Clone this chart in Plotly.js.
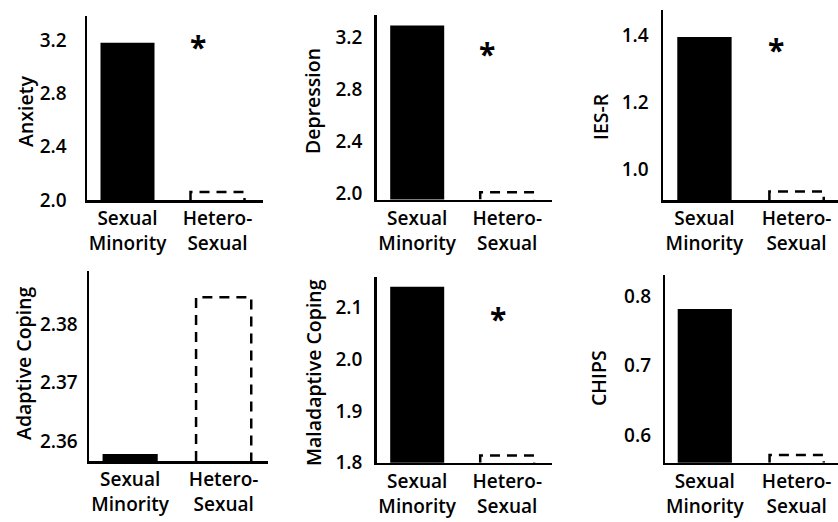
<!DOCTYPE html>
<html>
<head>
<meta charset="utf-8">
<script src="https://cdn.plot.ly/plotly-3.0.1.min.js"></script>
<style>html,body{margin:0;padding:0;background:#fff;}#chart{width:838px;height:522px;}</style>
</head>
<body>
<div id="chart"></div>
<script>
// ---- data ----
const categories = ['Sexual<br>Minority', 'Hetero-<br>Sexual'];
const measures = ['Anxiety', 'Depression', 'IES-R', 'Adaptive Coping', 'Maladaptive Coping', 'CHIPS'];
const sexualMinority = [3.18, 3.29, 1.395, 2.3578, 2.14, 0.781];
const heterosexual = [2.06, 2.005, 0.935, 2.3846, 1.814, 0.571];
const significant = [true, true, true, false, true, false];
const yTickVals = [[2.0, 2.4, 2.8, 3.2], [2.0, 2.4, 2.8, 3.2], [1.0, 1.2, 1.4], [2.36, 2.37, 2.38], [1.8, 1.9, 2.0, 2.1], [0.6, 0.7, 0.8]];
const yTickFormat = ['.1f', '.1f', '.1f', '.2f', '.1f', '.1f'];

// ---- layout geometry (pixels) ----
const W = 838, H = 522;
const panels = [
  {x: [87, 262.5], xr: [-0.45, 1.5], y: [16, 200], yr: [2.0, 3.38], bw: 0.6, so: 14, title: [25, 112], star: [198, 47]},
  {x: [376.7, 552.2], xr: [-0.45, 1.5], y: [15, 199.5], yr: [1.95, 3.37], bw: 0.6, so: 8, title: [313, 101], star: [487, 54]},
  {x: [663, 838], xr: [-0.45, 1.45], y: [10, 200], yr: [0.91, 1.475], bw: 0.59, so: 8, title: [600, 117], star: [776, 49]},
  {x: [89, 267.6], xr: [-0.44, 1.47], y: [271, 461], yr: [2.3566, 2.3891], bw: 0.59, so: 5, title: [23, 363], star: null},
  {x: [376.7, 552.2], xr: [-0.45, 1.5], y: [277, 462.7], yr: [1.8, 2.159], bw: 0.6, so: 8, title: [313, 373], star: [498, 318]},
  {x: [665.3, 838], xr: [-0.43, 1.45], y: [275, 462.7], yr: [0.56, 0.83], bw: 0.59, so: 8, title: [598, 378], star: null}
];

const FONT = '"Open Sans", "Noto Sans", sans-serif';
const WEIGHT = 600;
const data = [];
const layout = {
  width: W, height: H,
  margin: {l: 0, r: 0, t: 0, b: 0},
  paper_bgcolor: '#fff', plot_bgcolor: '#fff',
  showlegend: false,
  font: {family: FONT, size: 18, color: '#000'},
  annotations: []
};

panels.forEach((p, i) => {
  const n = i + 1;
  const xa = 'x' + (n === 1 ? '' : n), ya = 'y' + (n === 1 ? '' : n);
  const base = p.yr[0];
  // filled bar: sexual minority
  data.push({
    type: 'bar', x: [0], y: [sexualMinority[i]], width: p.bw,
    marker: {color: '#000', line: {width: 0}},
    xaxis: xa, yaxis: ya, hoverinfo: 'skip'
  });
  // dashed outline bar: heterosexual
  const v = heterosexual[i], h = p.bw / 2;
  data.push({
    type: 'scatter', mode: 'lines',
    x: [1 - h, 1 - h, 1 + h, 1 + h], y: [base, v, v, base],
    line: {color: '#000', width: 2.5, dash: '10px,7px'},
    xaxis: xa, yaxis: ya, hoverinfo: 'skip'
  });
  const xKey = 'xaxis' + (n === 1 ? '' : n), yKey = 'yaxis' + (n === 1 ? '' : n);
  layout[xKey] = {
    domain: [p.x[0] / W, Math.min(1, p.x[1] / W)],
    range: p.xr, anchor: ya,
    tickmode: 'array', tickvals: [0, 1], ticktext: categories,
    showgrid: false, zeroline: false, showline: true, linecolor: '#000', linewidth: 2.5,
    ticks: '', ticklabelstandoff: 0,
    tickfont: {family: FONT, size: 19, color: '#000', weight: WEIGHT}, fixedrange: true
  };
  layout[yKey] = {
    domain: [1 - p.y[1] / H, 1 - p.y[0] / H],
    range: p.yr, anchor: xa,
    tickmode: 'array', tickvals: yTickVals[i], tickformat: yTickFormat[i],
    showgrid: false, zeroline: false, showline: true, linecolor: '#000', linewidth: 2.5,
    ticks: '', ticklabelstandoff: p.so,
    tickfont: {family: FONT, size: 19, color: '#000', weight: WEIGHT}, fixedrange: true
  };
  layout.annotations.push({
    text: measures[i], xref: 'paper', yref: 'paper',
    x: p.title[0] / W, y: 1 - p.title[1] / H, xanchor: 'center', yanchor: 'middle',
    textangle: -90, showarrow: false, font: {family: FONT, size: 19.5, color: '#000', weight: WEIGHT}
  });
  if (significant[i] && p.star) {
    layout.annotations.push({
      text: '<b>*</b>', xref: 'paper', yref: 'paper',
      x: p.star[0] / W, y: 1 - p.star[1] / H, xanchor: 'center', yanchor: 'middle',
      showarrow: false, font: {family: FONT, size: 30, color: '#000'}
    });
  }
});

Plotly.newPlot('chart', data, layout, {staticPlot: true, displayModeBar: false});
</script>
</body>
</html>
